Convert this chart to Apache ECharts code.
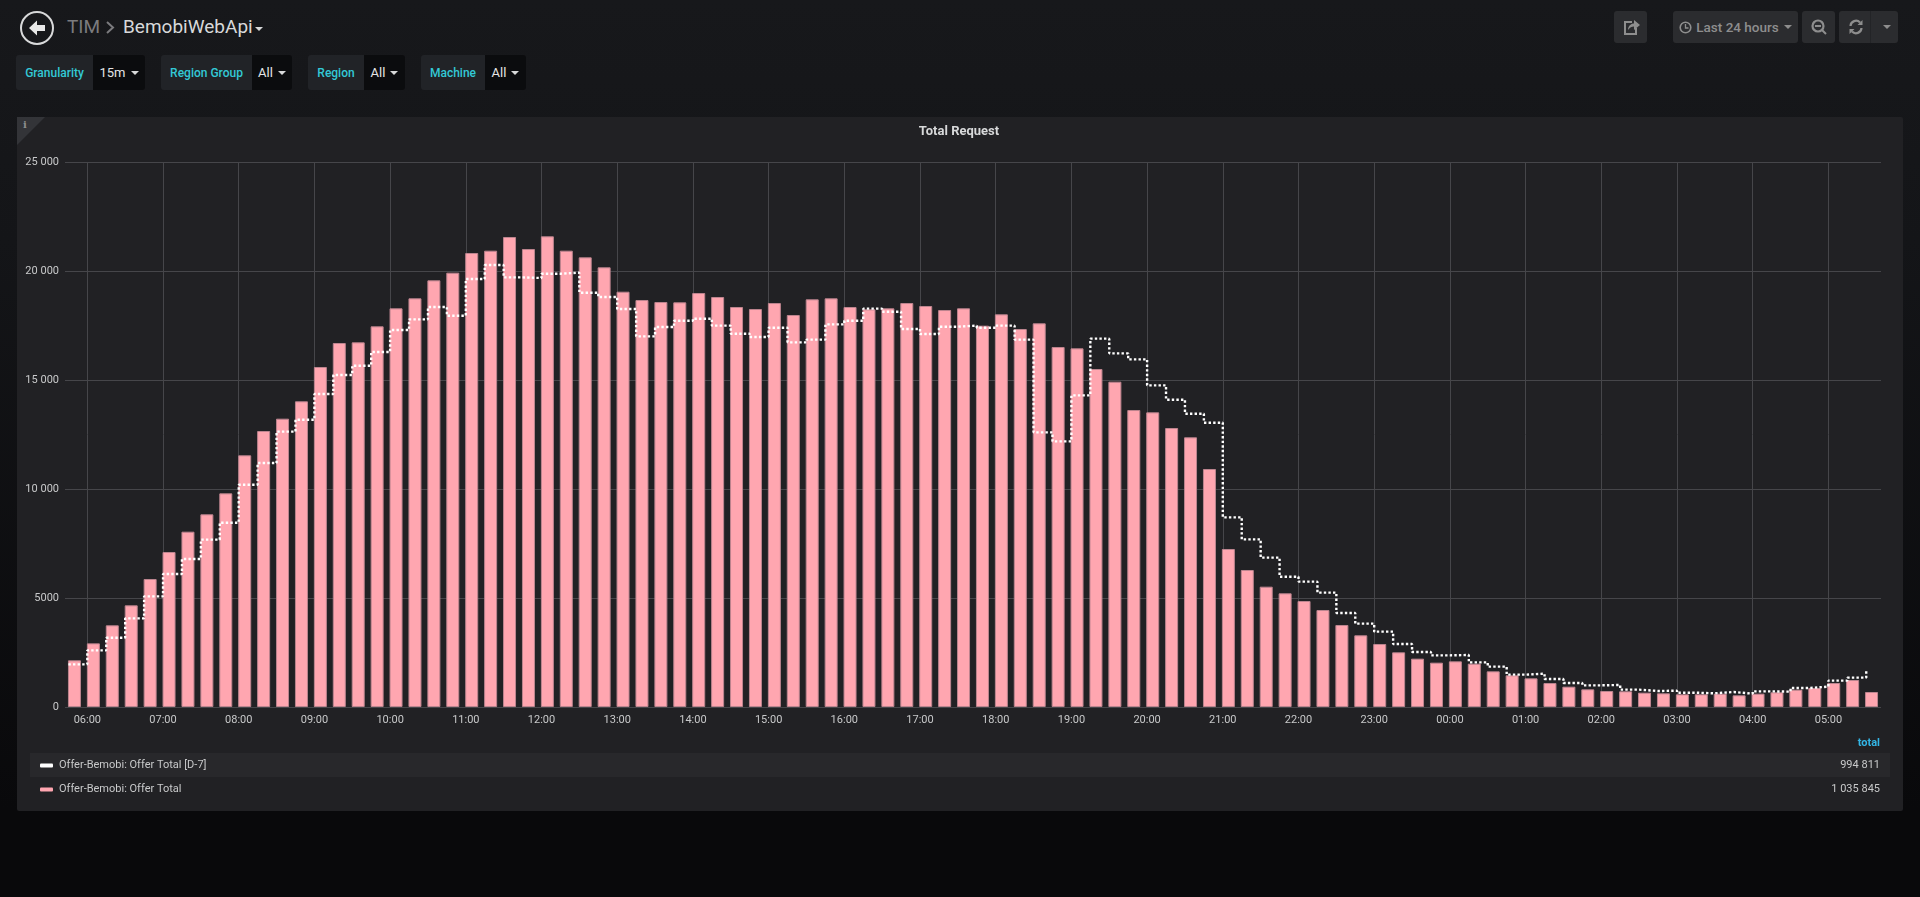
<!DOCTYPE html>
<html><head><meta charset="utf-8"><title>Total Request</title>
<script src="https://cdn.jsdelivr.net/npm/echarts@6/dist/echarts.min.js"></script>
<style>
html,body{margin:0;padding:0;width:1920px;height:897px;overflow:hidden;background:linear-gradient(#17181b 0,#141518 240px,#09090b 810px);font-family:Roboto,sans-serif;}
.a{position:absolute;box-sizing:border-box;white-space:nowrap;}
.lab{background:#212327;color:#33c9d6;font-size:12px;font-weight:500;display:flex;align-items:center;justify-content:center;height:35px;top:55px;border-radius:3px 0 0 3px;}
.val{background:#0b0c0e;color:#e4e5e6;font-size:13px;display:flex;align-items:center;justify-content:center;height:35px;top:55px;border-radius:0 3px 3px 0;}
.caret{display:inline-block;width:0;height:0;border-left:4px solid transparent;border-right:4px solid transparent;border-top:4px solid #d8d9da;margin-left:5px;}
.btn{background:#2b2c2f;height:32px;top:11px;border-radius:3px;display:flex;align-items:center;justify-content:center;color:#8e8e8e;font-size:13.5px;font-weight:500;}
#panel{left:17px;top:117px;width:1886px;height:694px;background:#212124;border-radius:2px;}
#chart{position:absolute;left:0;top:0;width:1920px;height:897px;}
</style></head><body>
<div class="a" id="panel"></div>
<svg class="a" style="left:17px;top:117px" width="28" height="28"><path d="M0 0H28L0 28Z" fill="#333438"/><text x="8" y="11" font-size="10" font-weight="700" fill="#8e8e8e" font-family="DejaVu Serif" text-anchor="middle">i</text></svg>
<svg class="a" style="left:19px;top:10px" width="36" height="36"><circle cx="18" cy="18" r="16" fill="none" stroke="#d8d9da" stroke-width="2"/><path d="M10 18L18 10.500V15H26V21H18V25.500Z" fill="#e8e8e8"/></svg>
<div class="a" style="left:67px;top:15px;font-size:19px;line-height:24px;color:#7b7b7e">TIM</div>
<svg class="a" style="left:105px;top:20px" width="10" height="15"><path d="M2 2L8 7.500L2 13" fill="none" stroke="#7b7b7e" stroke-width="2"/></svg>
<div class="a" style="left:123px;top:15px;font-size:19px;line-height:24px;color:#d8d9da">BemobiWebApi</div>
<div class="a" style="left:255px;top:27px;width:0;height:0;border-left:4px solid transparent;border-right:4px solid transparent;border-top:4px solid #d8d9da"></div>

<div class="a lab" style="left:16px;width:77px">Granularity</div><div class="a val" style="left:93px;width:52px">15m<span class="caret"></span></div>
<div class="a lab" style="left:161px;width:91px">Region Group</div><div class="a val" style="left:252px;width:40px">All<span class="caret"></span></div>
<div class="a lab" style="left:308px;width:56px">Region</div><div class="a val" style="left:364px;width:41px">All<span class="caret"></span></div>
<div class="a lab" style="left:421px;width:64px">Machine</div><div class="a val" style="left:485px;width:41px">All<span class="caret"></span></div>

<div class="a btn" style="left:1614px;width:33px"><svg width="18" height="18"><path d="M10 4H3V16H14V10" fill="none" stroke="#8e8e8e" stroke-width="2"/><path d="M6 12C6 7 10 5.500 12 5.500V2L18 7L12 12V8.500C10 8.500 7.500 9.500 6 12Z" fill="#8e8e8e"/></svg></div>
<div class="a btn" style="left:1673px;width:125px"><svg width="13" height="13" style="margin-right:4px"><circle cx="6.500" cy="6.500" r="5.300" fill="none" stroke="#8e8e8e" stroke-width="1.600"/><path d="M6.500 3V7H9.500" fill="none" stroke="#8e8e8e" stroke-width="1.300"/></svg>Last 24 hours<span class="caret" style="border-top-color:#8e8e8e"></span></div>
<div class="a btn" style="left:1802px;width:33px"><svg width="18" height="18"><circle cx="8" cy="8" r="5.500" fill="none" stroke="#8e8e8e" stroke-width="2.200"/><path d="M5 8H11M12 12L16 16" stroke="#8e8e8e" stroke-width="2"/></svg></div>
<div class="a btn" style="left:1839px;width:59px;justify-content:flex-start;padding-left:9px"><svg width="16" height="16"><path d="M2.500 7A5.500 5.500 0 0 1 12 3.500M13.500 9A5.500 5.500 0 0 1 4 12.500" fill="none" stroke="#8e8e8e" stroke-width="2.200"/><path d="M14.500 1V6H9.500ZM1.500 15V10H6.500Z" fill="#8e8e8e"/></svg><span class="caret" style="border-top-color:#8e8e8e;margin-left:19px"></span></div>
<div class="a" style="left:1870px;top:11px;width:1px;height:32px;background:#232427"></div>

<div id="chart"></div>
<script>
// 15-minute buckets, starting at 05:45
const seriesNames = ['Offer-Bemobi: Offer Total [D-7]', 'Offer-Bemobi: Offer Total'];
const totals = ['994 811', '1 035 845'];
const yTickValues = [0, 5000, 10000, 15000, 20000, 25000];
const yTickLabels = ['0', '5000', '10 000', '15 000', '20 000', '25 000'];
const offerTotal = [2141,2920,3746,4663,5871,7110,8042,8838,9800,11544,12660,13226,14021,15596,16697,16727,17461,18287,18746,19571,19923,20825,20932,21559,21008,21590,20932,20626,20168,19051,18669,18577,18562,18990,18807,18348,18256,18531,17981,18700,18746,18348,18241,18287,18531,18394,18210,18287,17492,18012,17339,17599,16513,16452,15504,14923,13623,13516,12798,12370,10917,7247,6284,5520,5214,4862,4449,3761,3287,2890,2508,2217,2034,2095,1988,1636,1453,1315,1101,933,810,734,719,657,627,581,581,612,535,612,673,795,872,1101,1239,688];
const offerTotalD7 = [1957,2599,3180,4067,5076,6101,6789,7676,8455,10198,11192,12630,13180,14357,15229,15657,16284,17293,17782,18348,17950,19632,20275,19709,19678,19877,19923,19005,18807,18256,17002,17431,17721,17813,17492,17125,16972,17400,16727,16850,17553,17721,18272,18134,17339,17110,17446,17492,17400,17492,16850,12599,12186,14296,16896,16223,15947,14755,14097,13455,13042,8700,7691,6850,5978,5749,5245,4312,3823,3456,2890,2523,2370,2385,2049,1850,1483,1529,1284,1101,994,1009,795,734,749,657,627,688,612,719,703,872,933,1208,1346,1682];

const MIN = 60000, HOUR = 3600000;
const firstBucket = new Date(2018, 5, 11, 5, 45).getTime();
const times = offerTotal.map((_, i) => firstBucket + i * 15 * MIN);
const axisMin = new Date(2018, 5, 11, 5, 42, 18).getTime();
const axisMax = axisMin + 23.99 * HOUR;

const cText = '#c8c9ca', cGrid = '#46464a';
const chart = echarts.init(document.getElementById('chart'), null, {renderer: 'canvas'});
const font = 'Roboto, sans-serif';
chart.setOption({
  animation: false,
  backgroundColor: 'transparent',
  title: {text: 'Total Request', left: 954, top: 120, textAlign: 'center',
    textStyle: {color: '#d8d9da', fontSize: 13, fontWeight: 700, fontFamily: font}},
  grid: {left: 65, right: 39, top: 162, height: 545, containLabel: false},
  legend: {
    orient: 'vertical', left: 35, top: 755, itemWidth: 13, itemHeight: 4, itemGap: 13,
    icon: 'roundRect', selectedMode: false,
    textStyle: {color: cText, fontSize: 11, fontFamily: font, padding: [0, 0, 0, 1]},
    data: [{name: seriesNames[0], itemStyle: {color: '#ffffff', borderWidth: 0}}, {name: seriesNames[1], itemStyle: {color: '#FFA6B0', borderWidth: 0}}]
  },
  xAxis: [
    {type: 'time', min: axisMin, max: axisMax, minInterval: HOUR, maxInterval: HOUR,
      axisLine: {show: false}, axisTick: {show: false},
      axisLabel: {color: cText, fontSize: 11, fontFamily: font, margin: 8, showMinLabel: false, showMaxLabel: false,
        hideOverlap: false, formatter: v => echarts.time.format(v, '{HH}:{mm}', false)},
      splitLine: {show: true, showMinLine: false, showMaxLine: false, lineStyle: {color: cGrid, width: 1}}},
    // one band per 15-minute bucket; the bars sit in these bands
    {type: 'category', data: times.map(t => echarts.time.format(t, '{HH}:{mm}', false)), show: false, boundaryGap: true}
  ],
  yAxis: {type: 'value', min: 0, max: 25000, interval: 5000,
    axisLine: {show: false}, axisTick: {show: false},
    axisLabel: {color: cText, fontSize: 11, fontFamily: font, margin: 6,
      formatter: v => yTickLabels[yTickValues.indexOf(v)]},
    splitLine: {show: true, lineStyle: {color: cGrid, width: 1}}},
  series: [
    {name: seriesNames[1], type: 'bar', xAxisIndex: 1, z: 2, barWidth: 13,
      itemStyle: {color: '#FFA6B0', borderColor: '#bd858f', borderWidth: 1},
      data: offerTotal},
    {name: seriesNames[0], type: 'line', xAxisIndex: 0, z: 3, step: 'end', showSymbol: false, symbol: 'none',
      itemStyle: {color: '#ffffff'},
      lineStyle: {color: '#ffffff', width: 2.4, type: [2.4, 2.2]},
      data: times.map((t, i) => [t, offerTotalD7[i]])}
  ],
  graphic: [
    {type: 'rect', z: -10, silent: true, shape: {x: 30, y: 753, width: 1860, height: 24}, style: {fill: '#28282b'}},
    {type: 'text', z: 5, style: {x: 1880, y: 743, text: 'total', align: 'right', verticalAlign: 'middle', fill: '#33b5e5', font: '700 11px Roboto'}},
    {type: 'text', z: 5, style: {x: 1880, y: 765, text: totals[0], align: 'right', verticalAlign: 'middle', fill: cText, font: '11px Roboto'}},
    {type: 'text', z: 5, style: {x: 1880, y: 789, text: totals[1], align: 'right', verticalAlign: 'middle', fill: cText, font: '11px Roboto'}}
  ]
});
</script>
</body></html>
